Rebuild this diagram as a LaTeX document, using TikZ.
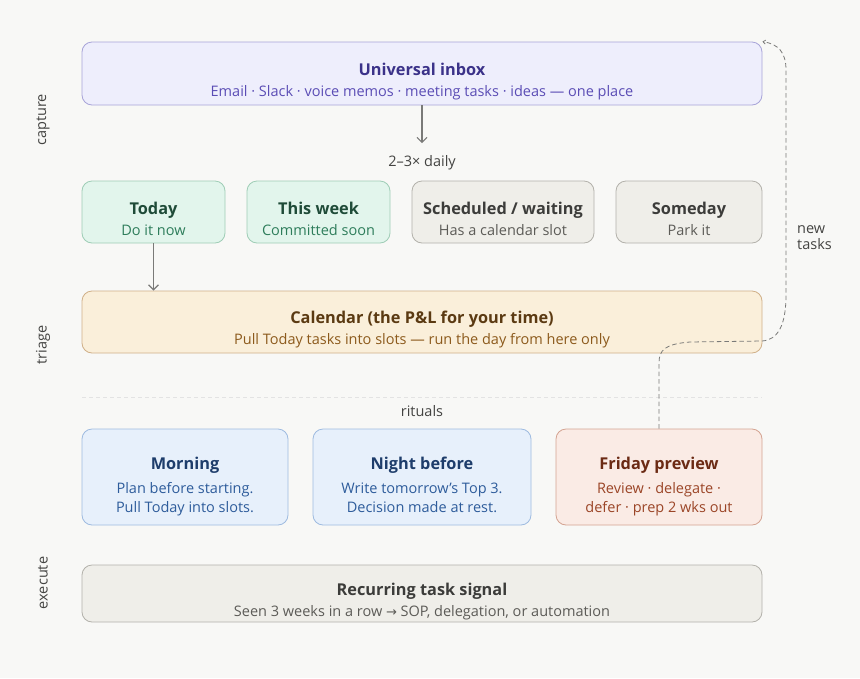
\documentclass[tikz,border=0pt]{standalone}
\usepackage{fontspec}
\setmainfont{Open Sans}
\newfontfamily\symfont{DejaVu Sans}
\usepackage{xcolor}
\usetikzlibrary{positioning, calc, arrows.meta}

\definecolor{bgcol}{HTML}{F8F8F6}
\definecolor{inboxfill}{HTML}{EEEEFC}
\definecolor{inboxdraw}{HTML}{A8A4D8}
\definecolor{inboxtitle}{HTML}{3B3289}
\definecolor{inboxsub}{HTML}{5B4DB5}
\definecolor{greenfill}{HTML}{E2F5EC}
\definecolor{greendraw}{HTML}{9FCDB6}
\definecolor{greentitle}{HTML}{1F4B38}
\definecolor{greensub}{HTML}{2E7D5B}
\definecolor{grayfill}{HTML}{EFEEE9}
\definecolor{graydraw}{HTML}{B3B1AB}
\definecolor{graytitle}{HTML}{3C3C3A}
\definecolor{graysub}{HTML}{5C5B57}
\definecolor{calfill}{HTML}{FAEFDA}
\definecolor{caldraw}{HTML}{D0B088}
\definecolor{caltitle}{HTML}{5B3A12}
\definecolor{calsub}{HTML}{8C5A1C}
\definecolor{bluefill}{HTML}{E7F0FB}
\definecolor{bluedraw}{HTML}{9EBBE0}
\definecolor{bluetitle}{HTML}{1E3D6B}
\definecolor{bluesub}{HTML}{2E5C9B}
\definecolor{frifill}{HTML}{FAEBE5}
\definecolor{fridraw}{HTML}{D4A391}
\definecolor{frititle}{HTML}{6B2A14}
\definecolor{frisub}{HTML}{9B4527}
\definecolor{labelcol}{HTML}{444442}
\definecolor{arrowcol}{HTML}{7A7A78}

\begin{document}
\begin{tikzpicture}[
    x=1pt, y=-1pt,
    card/.style={rectangle, rounded corners=10pt, line width=0.8pt, inner sep=0pt},
    inboxcard/.style={card, fill=inboxfill, draw=inboxdraw},
    greencard/.style={card, fill=greenfill, draw=greendraw},
    graycard/.style={card, fill=grayfill, draw=graydraw},
    calcard/.style={card, fill=calfill, draw=caldraw},
    bluecard/.style={card, fill=bluefill, draw=bluedraw},
    fricard/.style={card, fill=frifill, draw=fridraw},
    title/.style={anchor=base, inner sep=0pt, font=\fontsize{16.3}{19}\selectfont\bfseries},
    sub/.style={anchor=base, inner sep=0pt, font=\fontsize{14.5}{19}\selectfont},
    side/.style={font=\fontsize{14.5}{17}\selectfont, text=labelcol, rotate=90},
    note/.style={font=\fontsize{14.5}{17}\selectfont, text=labelcol},
    flow/.style={-{Straight Barb[length=5pt, width=10pt]}, draw=arrowcol, line width=1.2pt},
    loopback/.style={-{Straight Barb[length=2.5pt, width=4pt]}, draw=arrowcol, line width=0.8pt, dash pattern=on 4.5pt off 3pt}
]

% Background
\useasboundingbox (0,0) rectangle (860,678);
\fill[bgcol] (0,0) rectangle (860,678);

% Capture
\node[inboxcard, minimum width=680pt, minimum height=63pt] (inbox) at (422,73.5) {};
\node[title, text=inboxtitle] at ([yshift=-1.5pt]inbox.center) {Universal inbox};
\node[sub, text=inboxsub] at ([yshift=-23.2pt]inbox.center) {Email · Slack · voice memos · meeting tasks · ideas — one place};

\node[note] (daily) at (422,163) {2–3× daily};
\draw[flow, shorten >=9pt] (inbox.south) -- (daily.north);

% Triage buckets
\node[greencard, minimum width=143pt, minimum height=62pt] (today) at (153.5,212) {};
\node[title, text=greentitle] at ([yshift=-2.3pt]today.center) {Today};
\node[sub, text=greensub] at ([yshift=-23pt]today.center) {Do it now};

\node[greencard, minimum width=143pt, minimum height=62pt] (week) at (318.5,212) {};
\node[title, text=greentitle] at ([yshift=-2.3pt]week.center) {This week};
\node[sub, text=greensub] at ([yshift=-23pt]week.center) {Committed soon};

\node[graycard, minimum width=182pt, minimum height=62pt] (waiting) at (503,212) {};
\node[title, text=graytitle] at ([yshift=-2.3pt]waiting.center) {Scheduled / waiting};
\node[sub, text=graysub] at ([yshift=-23pt]waiting.center) {Has a calendar slot};

\node[graycard, minimum width=146pt, minimum height=62pt] (someday) at (689,212) {};
\node[title, text=graytitle] at ([yshift=-2.3pt]someday.center) {Someday};
\node[sub, text=graysub] at ([yshift=-23pt]someday.center) {Park it};

% Calendar
\node[calcard, minimum width=680pt, minimum height=62pt] (cal) at (422,322) {};
\node[title, text=caltitle] at ([yshift=-1.3pt]cal.center) {Calendar (the P\&L for your time)};
\node[sub, text=calsub] at ([yshift=-22.3pt]cal.center) {Pull Today tasks into slots — run the day from here only};

\draw[flow] (today.south) -- (today.south |- cal.north);

% Rituals
\draw[draw=black!11, line width=0.8pt, dash pattern=on 4pt off 3pt] (82,397) -- (762,397);
\node[note] (rituals) at (422,411) {rituals};

\node[bluecard, minimum width=206pt, minimum height=96pt] (morning) at (185,477) {};
\node[title, text=bluetitle] at ([yshift=7.7pt]morning.center) {Morning};
\node[sub, text=bluesub] at ([yshift=-16.3pt]morning.center) {Plan before starting.};
\node[sub, text=bluesub] at ([yshift=-35.3pt]morning.center) {Pull Today into slots.};

\node[bluecard, minimum width=218pt, minimum height=96pt] (night) at (422,477) {};
\node[title, text=bluetitle] at ([yshift=7.7pt]night.center) {Night before};
\node[sub, text=bluesub] at ([yshift=-16.3pt]night.center) {Write tomorrow’s Top 3.};
\node[sub, text=bluesub] at ([yshift=-35.3pt]night.center) {Decision made at rest.};

\node[fricard, minimum width=206pt, minimum height=96pt] (fri) at (659,477) {};
\node[title, text=frititle] at ([yshift=7.7pt]fri.center) {Friday preview};
\node[sub, text=frisub] at ([yshift=-16.3pt]fri.center) {Review · delegate ·};
\node[sub, text=frisub] at ([yshift=-35.3pt]fri.center) {defer · prep 2 wks out};

% Execute
\node[graycard, minimum width=680pt, minimum height=57pt] (recurring) at (422,593.5) {};
\node[title, text=graytitle] at ([yshift=-1.5pt]recurring.center) {Recurring task signal};
\node[sub, text=graysub] at ([yshift=-22.5pt]recurring.center) {Seen 3 weeks in a row {\symfont\fontsize{13}{19}\selectfont →} SOP, delegation, or automation};

% Loop back to inbox
\draw[loopback] (fri.north) -- (659,363)
    .. controls (659,350) and (665,344) .. (690,342) -- (762,341)
    .. controls (778,340) and (786,325) .. (786,295) -- (786,70)
    .. controls (786,52) and (778,44) .. (inbox.north east);
\node[note, anchor=base west, inner sep=0pt] (newtxt) at (797,233) {new};
\node[note, anchor=base west, inner sep=0pt] (taskstxt) at (797,249) {tasks};

% Stage labels
\node[side] (capture) at (43,120) {capture};
\node[side] (triage) at (43,345) {triage};
\node[side] (execute) at (43,583) {execute};

\end{tikzpicture}
\end{document}
